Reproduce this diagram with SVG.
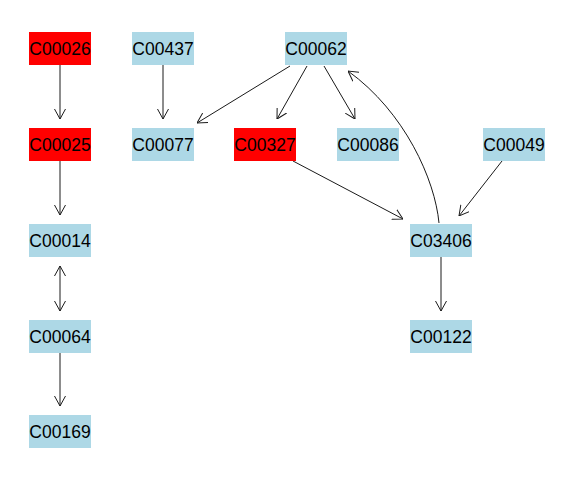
<svg xmlns="http://www.w3.org/2000/svg" width="576" height="480" viewBox="0 0 576 480">
<style>
.n text{font-family:"Liberation Sans",Arial,sans-serif;font-size:17.5px;fill:#000;text-anchor:middle}
.red rect{fill:#FF0000}
.blue rect{fill:#ADD8E6}
#edges path{fill:none;stroke:#1a1a1a;stroke-width:1;marker-end:url(#ah)}
</style>
<defs>
<marker id="ah" viewBox="0 0 10 12" refX="10" refY="6" markerWidth="10" markerHeight="12" markerUnits="userSpaceOnUse" orient="auto-start-reverse">
<path d="M0,0.5 L10,6 L0,11.5" fill="none" stroke="#1a1a1a" stroke-width="1"/>
</marker>
</defs>
<rect width="576" height="480" fill="#fff"/>
<g id="edges">
<path d="M60,65 L60,119"/>
<path d="M163,65 L163,119"/>
<path d="M290,66 L197,123"/>
<path d="M307,66 L277,119"/>
<path d="M324,66 L355,119"/>
<path d="M439,223 C435,180 405,112 348,71"/>
<path d="M293,161 L403,219"/>
<path d="M502,161 L459,216"/>
<path d="M441,257 L441,311"/>
<path d="M60,161 L60,215"/>
<path d="M60,266 L60,311" style="marker-start:url(#ah)"/>
<path d="M60,353 L60,406"/>
</g>
<g id="C00026" class="n red"><rect x="29" y="32" width="62" height="33"/><text x="60" y="54.5">C00026</text></g>
<g id="C00437" class="n blue"><rect x="132" y="32" width="62" height="33"/><text x="163" y="54.5">C00437</text></g>
<g id="C00062" class="n blue"><rect x="285" y="32" width="62" height="33"/><text x="316" y="54.5">C00062</text></g>
<g id="C00025" class="n red"><rect x="29" y="128" width="62" height="33"/><text x="60" y="150.5">C00025</text></g>
<g id="C00077" class="n blue"><rect x="132" y="128" width="62" height="33"/><text x="163" y="150.5">C00077</text></g>
<g id="C00327" class="n red"><rect x="234" y="128" width="62" height="33"/><text x="265" y="150.5">C00327</text></g>
<g id="C00086" class="n blue"><rect x="337" y="128" width="62" height="33"/><text x="368" y="150.5">C00086</text></g>
<g id="C00049" class="n blue"><rect x="483" y="128" width="62" height="33"/><text x="514" y="150.5">C00049</text></g>
<g id="C00014" class="n blue"><rect x="29" y="224" width="62" height="33"/><text x="60" y="246.5">C00014</text></g>
<g id="C03406" class="n blue"><rect x="410" y="224" width="62" height="33"/><text x="441" y="246.5">C03406</text></g>
<g id="C00064" class="n blue"><rect x="29" y="320" width="62" height="33"/><text x="60" y="342.5">C00064</text></g>
<g id="C00122" class="n blue"><rect x="410" y="320" width="62" height="33"/><text x="441" y="342.5">C00122</text></g>
<g id="C00169" class="n blue"><rect x="29" y="415" width="62" height="33"/><text x="60" y="438">C00169</text></g>
</svg>
